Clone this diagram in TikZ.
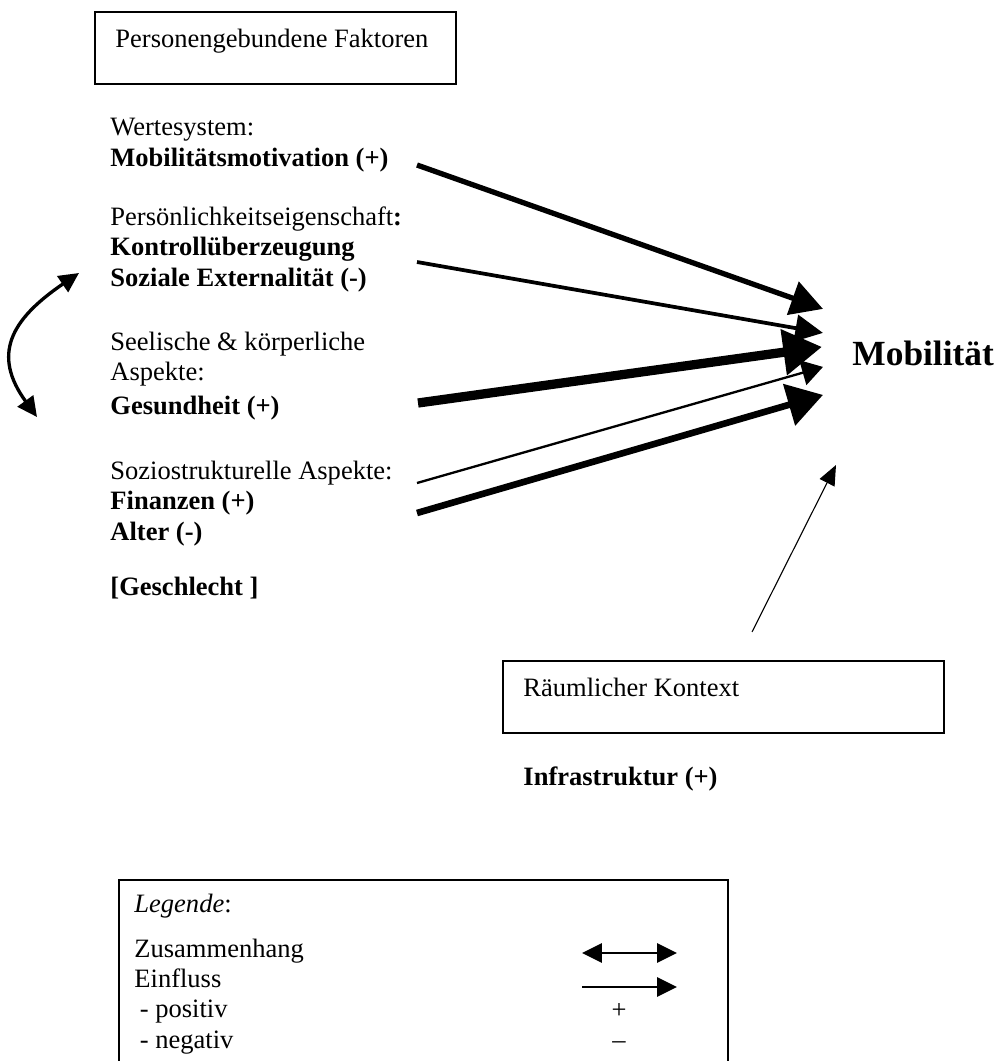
\documentclass[tikz,border=0pt]{standalone}
\usepackage{fontspec}
\setmainfont{Liberation Serif}
\usetikzlibrary{arrows.meta, positioning, calc}

\begin{document}
\begin{tikzpicture}[x=0.4525pt, y=-0.4525pt,
  txt/.style={anchor=base west, inner sep=0pt, align=left, font=\fontsize{12}{13.6}\selectfont},
  frame/.style={draw, line width=0.9pt, inner sep=0pt},
  infl/.style n args={3}{line width=#1, -{Triangle[length=#2, width=#3]}},
  legarrow/.style={line width=0.9pt}]
  \useasboundingbox (0,0) rectangle (1004,1061);
  \clip (0,0) rectangle (1004,1061);

  % Personengebundene Faktoren (base = last line)
  \node[frame, minimum width=163.4pt, minimum height=32.6pt] (pbox) at (275.5,48) {};
  \node[txt] (ptitle) at (115,47) {Personengebundene Faktoren};

  \node[txt] (wert) at (110,166) {Wertesystem:\\\textbf{Mobilitätsmotivation (+)}};
  \node[txt] (pers) at (110,286) {Persönlichkeitseigenschaft\textbf{:}\\\textbf{Kontrollüberzeugung}\\\textbf{Soziale Externalität (-)}};
  \node[txt] (seel) at (110,414) {Seelische \& körperliche\\Aspekte:\\[1.5pt]\textbf{Gesundheit (+)}};
  \node[txt] (sozio) at (110,540) {Soziostrukturelle Aspekte:\\\textbf{Finanzen (+)}\\\textbf{Alter (-)}};
  \node[txt] (geschl) at (110,595) {\textbf{[Geschlecht ]}};

  % Zusammenhang links
  \coordinate (zb) at (37,417);
  \coordinate (zt) at (79,273);
  \draw[line width=1.5pt, {Triangle[length=9pt, width=8.6pt]}-{Triangle[length=9pt, width=8.6pt]}]
    (zb) .. controls (-8,355) and (10,320) .. (zt);

  % Mobilitaet
  \node[txt, font=\fontsize{16}{19}\selectfont\bfseries] (mob) at (852,365) {Mobilität};

  \coordinate (s1) at (417,165);
  \coordinate (s2) at (417,262);
  \coordinate (s3) at (418,403);
  \coordinate (s4) at (417,483);
  \coordinate (s5) at (417,513);
  \draw[infl={2.4pt}{14.5pt}{15.5pt}] (s1) -- ($(mob.west)+(-29,-44)$);
  \draw[infl={1.7pt}{12.5pt}{12pt}] (s2) -- ($(mob.west)+(-29,-20)$);
  \draw[infl={4.2pt}{17.5pt}{20pt}] (s3) -- ($(mob.west)+(-30,-6)$);
  \draw[infl={1.05pt}{9.5pt}{11.5pt}] (s4) -- ($(mob.west)+(-29,14)$);
  \draw[infl={3pt}{16pt}{19pt}] (s5) -- ($(mob.west)+(-29,42)$);

  % Raeumlicher Kontext
  \node[frame, minimum width=199.6pt, minimum height=32.6pt] (raum) at (723.5,697) {};
  \node[txt] (rtitle) at (523,696) {Räumlicher Kontext};
  \node[txt] (infra) at (523,785) {\textbf{Infrastruktur (+)}};
  \coordinate (rtip) at (836,465);
  \draw[infl={0.5pt}{9pt}{7.5pt}] ($(raum.north)+(28.5,-28)$) -- (rtip);

  % Legende
  \node[frame, minimum width=275.6pt, minimum height=99.6pt] (legbox) at (423.5,990) {};
  \node[txt] (legtitle) at (134,912) {\textit{Legende}:};
  \node[txt] (legrows) at (134,1048) {Zusammenhang\\Einfluss\\\hspace{2.5pt}- positiv\\\hspace{2.5pt}- negativ};
  \node[txt, anchor=base] (plus) at (619,1018) {+};
  \node[txt, anchor=base] (minus) at (619,1048) {–};
  \coordinate (za) at (582,953);
  \coordinate (zc) at (677,953);
  \coordinate (ea) at (582,987);
  \coordinate (ec) at (677,987);
  \draw[legarrow, {Triangle[length=9pt, width=8.7pt]}-{Triangle[length=9pt, width=8.7pt]}] (za) -- (zc);
  \draw[legarrow, -{Triangle[length=9pt, width=8.7pt]}] (ea) -- (ec);
\end{tikzpicture}
\end{document}
